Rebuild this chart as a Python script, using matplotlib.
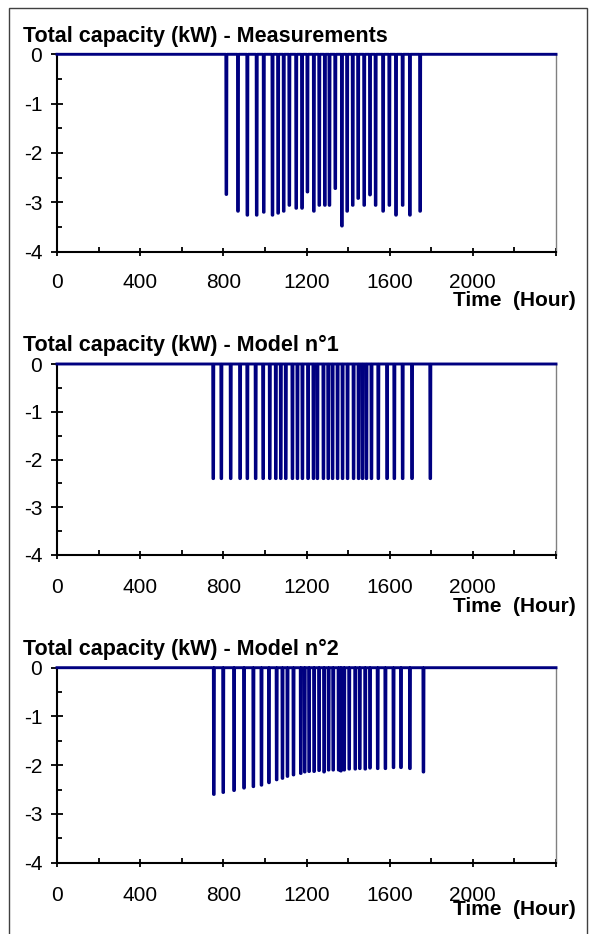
import numpy as np
import matplotlib
matplotlib.use('Agg')
from matplotlib import pyplot as plt
from matplotlib.patches import Rectangle

# hours of the start of each discharge and its depth (kW)
meas_hours = [813, 869, 914, 959, 993, 1035, 1062, 1089, 1116, 1149, 1177, 1203, 1234, 1260, 1287,
              1309, 1337, 1369, 1394, 1421, 1447, 1476, 1504, 1531, 1567, 1597, 1629, 1661, 1696, 1745]
meas_depth = [-2.84, -3.18, -3.26, -3.26, -3.20, -3.26, -3.22, -3.18, -3.06, -3.12, -3.12, -2.79, -3.18, -3.06, -3.06,
              -3.06, -2.72, -3.48, -3.18, -3.06, -2.92, -3.06, -2.85, -3.06, -3.18, -3.06, -3.26, -3.06, -3.26, -3.18]

model1_hours = [750, 789, 834, 879, 914, 954, 990, 1022, 1051, 1075, 1099, 1131, 1155, 1179, 1206, 1232, 1251,
                1280, 1303, 1324, 1348, 1372, 1396, 1425, 1449, 1468, 1487, 1511, 1544, 1586, 1621, 1661, 1706, 1794]
model1_depth = [-2.4] * len(model1_hours)

model2_hours = [753, 798, 850, 898, 943, 982, 1018, 1055, 1083, 1107, 1136, 1171, 1190, 1211, 1235, 1259, 1283,
                1305, 1327, 1353, 1364, 1380, 1404, 1433, 1455, 1481, 1504, 1541, 1578, 1617, 1653, 1696, 1761]
model2_depth = [-2.60, -2.56, -2.52, -2.47, -2.44, -2.41, -2.36, -2.30, -2.27, -2.23, -2.20, -2.17, -2.14, -2.13,
                -2.13, -2.11, -2.14, -2.10, -2.10, -2.10, -2.12, -2.10, -2.08, -2.08, -2.07, -2.08, -2.06, -2.07,
                -2.07, -2.05, -2.05, -2.07, -2.14]

titles = ['Total capacity (kW) - Measurements',
          'Total capacity (kW) - Model n°1',
          'Total capacity (kW) - Model n°2']
xtick_vals = [0, 400, 800, 1200, 1600, 2000, 2400]
xtick_labels = ['0', '400', '800', '1200', '1600', '2000', '']
ytick_vals = [0, -1, -2, -3, -4]
ytick_labels = ['0', '-1', '-2', '-3', '-4']
n_hours = 2400
spike_len = 4

W, H = 592, 934
# axes top / bottom in pixels, tick label pad (pt) and x label offset (px) per panel
panel_px = [(54.3, 251.7), (364, 555), (667.7, 862.7)]
xpad = [12.5, 14, 14]
xlab_off = [54, 56.7, 52.3]
left_px, right_px = 57, 556

fig = plt.figure(figsize=(W / 100, H / 100), dpi=100, facecolor='w')
plt.rcParams['font.family'] = ['Liberation Sans', 'DejaVu Sans']

series = [(meas_hours, meas_depth), (model1_hours, model1_depth), (model2_hours, model2_depth)]
for i in range(3):
    top, bot = panel_px[i]
    ax = fig.add_axes([left_px / W, 1 - bot / H, (right_px - left_px) / W, (bot - top) / H])
    # hourly series: zero, with each discharge held a few hours
    hours = np.arange(0, n_hours + 1)
    vals = np.zeros(n_hours + 1)
    for h, d in zip(series[i][0], series[i][1]):
        vals[h:h + spike_len] = d
    ax.plot(hours, vals, color='#000080', lw=2.1, clip_on=False, zorder=3)
    ax.set_xlim(0, 2400)
    ax.set_ylim(-4, 0)
    ax.set_xticks(xtick_vals)
    ax.set_xticklabels(xtick_labels)
    ax.set_xticks(np.arange(200, 2400, 400), minor=True)
    ax.set_yticks(ytick_vals)
    ax.set_yticklabels(ytick_labels)
    ax.set_yticks([-0.5, -1.5, -2.5, -3.5], minor=True)
    ax.tick_params(axis='x', which='major', direction='inout', length=5.5, width=1.3, labelsize=15, pad=xpad[i])
    ax.tick_params(axis='x', which='minor', direction='in', length=3.6, width=1.3)
    ax.tick_params(axis='y', which='major', direction='inout', length=8.4, width=1.3, labelsize=15, pad=6.5)
    ax.tick_params(axis='y', which='minor', direction='in', length=3.6, width=1.3)
    for s in ['left', 'bottom']:
        ax.spines[s].set_linewidth(1.5)
        ax.spines[s].set_color('black')
    ax.spines['right'].set_color('#808080')
    ax.spines['right'].set_linewidth(1)
    ax.spines['top'].set_visible(False)
    fig.text(23 / W, 1 - (top - 12.6) / H, titles[i], fontsize=15.5, fontweight='bold', va='baseline', ha='left')
    fig.text(576 / W, 1 - (bot + xlab_off[i]) / H, 'Time  (Hour)', fontsize=15, fontweight='bold',
             va='baseline', ha='right')

fig.add_artist(Rectangle((9 / W, -0.01), (587 - 9) / W, 1 - 8 / H + 0.01, transform=fig.transFigure,
                         fill=False, ec='#404040', lw=1))
plt.savefig('out.png', dpi=100)
